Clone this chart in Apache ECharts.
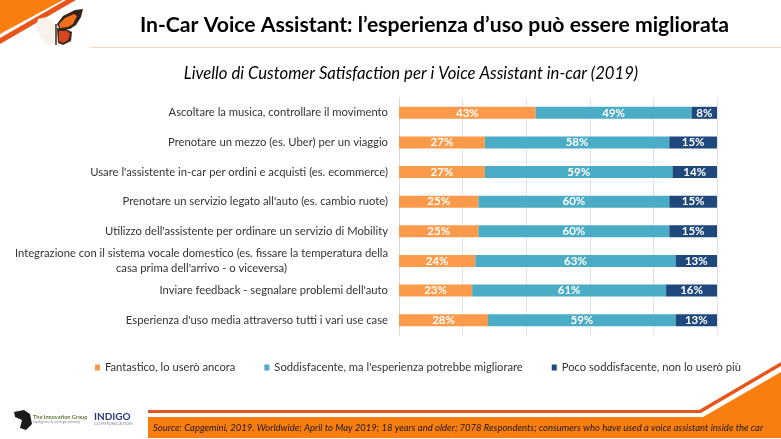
<!DOCTYPE html>
<html>
<head>
<meta charset="utf-8">
<title>In-Car Voice Assistant</title>
<script src="https://cdn.jsdelivr.net/npm/echarts@6/dist/echarts.min.js"></script>
<style>
    html, body { margin: 0; padding: 0; background: #fff; }
    #chart { width: 781px; height: 439px; }
</style>
</head>
<body>
<div id="chart"></div>
<script>
var categories = [
    "Ascoltare la musica, controllare il movimento",
    "Prenotare un mezzo (es. Uber) per un viaggio",
    "Usare l'assistente in-car per ordini e acquisti (es. ecommerce)",
    "Prenotare un servizio legato all'auto (es. cambio ruote)",
    "Utilizzo dell'assistente per ordinare un servizio di Mobility",
    "Integrazione con il sistema vocale domestico (es. fissare la temperatura della\ncasa prima dell'arrivo - o viceversa)",
    "Inviare feedback - segnalare problemi dell'auto",
    "Esperienza d'uso media attraverso tutti i vari use case"
];
var seriesNames = [
    "Fantastico, lo userò ancora",
    "Soddisfacente, ma l'esperienza potrebbe migliorare",
    "Poco soddisfacente, non lo userò più"
];
var fantastico = [43, 27, 27, 25, 25, 24, 23, 28];
var soddisfacente = [49, 58, 59, 60, 60, 63, 61, 59];
var poco = [8, 15, 14, 15, 15, 13, 16, 13];

var FONT = "Lato";
var ORANGE = "#fa7d0f";
var STRIPE = "#e8551a";
var colors = ["#fb9a4a", "#4bacc6", "#1f497d"];

function barSeries(idx, values) {
    return {
        name: seriesNames[idx],
        type: "bar",
        stack: "totale",
        barWidth: 12,
        data: values,
        itemStyle: { color: colors[idx] },
        label: {
            show: true,
            position: "inside",
            formatter: "{c}%",
            color: "#fff",
            fontFamily: FONT,
            fontWeight: "bold",
            fontSize: 11.5
        }
    };
}

function poly(points, fill) {
    return { type: "polygon", shape: { points: points }, style: { fill: fill }, silent: true };
}

function txt(x, y, text, font, fill, align) {
    return {
        type: "text", x: x, y: y, silent: true,
        style: { text: text, font: font, fill: fill, align: align || "left", verticalAlign: "middle" }
    };
}

// header, footer bands and logos
var decorations = [
    poly([[0, 0], [63, 0], [0, 34]], ORANGE),
    poly([[66, 0], [76, 0], [0, 44], [0, 38]], STRIPE),
    { type: "rect", shape: { x: 91, y: 47, width: 690, height: 1 }, style: { fill: "#f6d5c2" }, silent: true },
    // butterfly
    poly([[55, 24], [47, 17], [38, 19], [36, 27], [41, 38], [48, 45], [54, 44]], "#f9f2ea"),
    poly([[57, 28], [66, 29], [72, 32], [71, 41], [63, 45], [58, 43]], "#3a2a22"),
    poly([[59, 31], [67, 31], [70, 34], [68, 40], [63, 43], [59, 41]], "#d8461c"),
    poly([[57, 24], [63, 16], [75, 10], [83, 9], [81, 17], [76, 25], [70, 29], [60, 30]], "#33231c"),
    poly([[59, 24], [65, 18], [74, 14], [77, 16], [73, 24], [68, 27], [60, 28]], "#f0701e"),
    { type: "rect", shape: { x: 55, y: 24, width: 2, height: 21 }, style: { fill: "#6a5a4a" }, silent: true },

    txt(434.5, 25, "In-Car Voice Assistant: l’esperienza d’uso può essere migliorata", "bold 21.2px " + FONT, "#000", "center"),
    txt(411, 74, "Livello di Customer Satisfaction per i Voice Assistant in-car (2019)", "italic 16.7px " + FONT, "#000", "center"),

    poly([[148, 410], [699, 410], [781, 362], [781, 366], [701, 413], [148, 413]], STRIPE),
    poly([[148, 417], [703, 417], [781, 372], [781, 438], [148, 438]], ORANGE),
    txt(153, 428, "Source: Capgemini, 2019. Worldwide; April to May 2019; 18 years and older; 7078 Respondents; consumers who have used a voice assistant inside the car", "italic 9.5px " + FONT, "#1a1a1a"),

    poly([[14, 412], [24, 410], [30, 414], [32, 424], [26, 430], [20, 428], [22, 420], [15, 417]], "#1c1c1c"),
    txt(33, 417, "The Innovation Group", "bold 5.6px " + FONT, "#5d7a3a"),
    txt(33, 422, "Intelligence & strategic advisory", "3.4px " + FONT, "#888"),
    txt(94, 417, "INDIGO", "bold 10px " + FONT, "#2a3a80"),
    txt(94, 424, "COMMUNICATION", "4.4px " + FONT, "#8a8aa0")
];

var myChart = echarts.init(document.getElementById("chart"));
myChart.setOption({
    animation: false,
    textStyle: { fontFamily: FONT },
    grid: { left: 399, right: 64, top: 98, bottom: 104, containLabel: false },
    legend: {
        left: 95,
        top: 362,
        right: 0,
        padding: 0,
        icon: "rect",
        itemWidth: 5,
        itemHeight: 6,
        itemGap: 29,
        textStyle: { fontFamily: FONT, fontSize: 11.2, color: "#333" },
        data: seriesNames
    },
    xAxis: {
        type: "value",
        min: 0,
        max: 100,
        interval: 20,
        axisLabel: { show: false },
        axisLine: { show: false },
        axisTick: { show: false },
        splitLine: { lineStyle: { color: "#e2e2e2", width: 1 } }
    },
    yAxis: {
        type: "category",
        inverse: true,
        data: categories,
        axisTick: { show: false },
        axisLine: { lineStyle: { color: "#d9d9d9" } },
        axisLabel: {
            margin: 11,
            color: "#333",
            fontFamily: FONT,
            fontSize: 11.25,
            lineHeight: 15,
            // the two-line label is centred on itself, the others stay right aligned
            formatter: function (value) {
                if (value.indexOf("\n") < 0) {
                    return value;
                }
                return value.split("\n").map(function (line) {
                    return "{wide|" + line + "}";
                }).join("\n");
            },
            rich: {
                wide: { width: 373, align: "center", fontFamily: FONT, fontSize: 11.25, color: "#333", lineHeight: 15 }
            }
        }
    },
    series: [barSeries(0, fantastico), barSeries(1, soddisfacente), barSeries(2, poco)],
    graphic: decorations
});
</script>
</body>
</html>
